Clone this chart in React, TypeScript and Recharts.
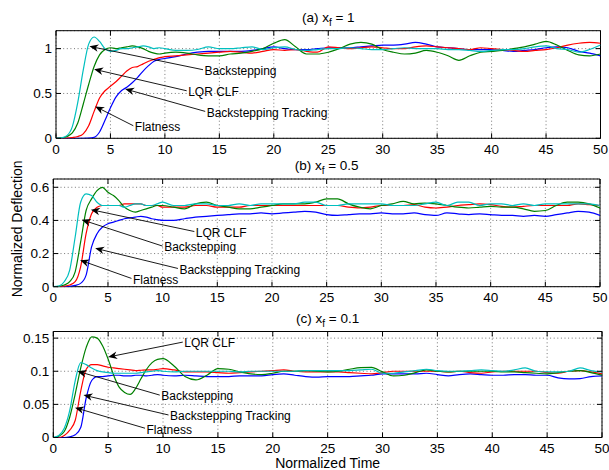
import React from 'react';
import { LineChart, Line, XAxis, YAxis, CartesianGrid, ReferenceArea, ReferenceLine } from 'recharts';

// ---------------- data ----------------
const TIME = [
  0, 0.5, 1, 1.5, 2, 2.5, 3, 3.5, 4, 4.5, 5, 5.5, 6, 6.5, 7, 7.5, 8, 8.5, 9, 9.5, 10,
  11, 12, 13, 14, 15, 16, 17, 18, 19, 20, 21, 22, 23, 24, 25, 26, 27, 28, 29, 30,
  31, 32, 33, 34, 35, 36, 37, 38, 39, 40, 41, 42, 43, 44, 45, 46, 47, 48, 49, 50,
];
const X_TICKS = [0, 5, 10, 15, 20, 25, 30, 35, 40, 45, 50];

// (a) x_f = 1
const A_CYAN = [
  0, 0.005, 0.03, 0.13, 0.4, 0.76, 1.05, 1.13, 1.08, 1.0, 0.97, 0.98, 1.0, 1.0, 1.01, 1.02, 1.03, 1.02, 1.0, 1.01, 1.0,
  0.98, 0.98, 0.99, 1.02, 1.0, 1.0, 1.01, 1.02, 0.99, 1.01, 1.02, 0.99, 0.98, 0.99, 1.0, 1.0, 1.01, 1.0, 0.99, 0.99,
  1.0, 1.01, 1.0, 1.0, 1.0, 0.99, 0.99, 0.98, 0.97, 0.98, 0.99, 0.99, 1.0, 1.02, 1.03, 1.0, 0.99, 0.96, 0.99, 1.04,
];
const A_GREEN = [
  0, 0.003, 0.02, 0.06, 0.17, 0.38, 0.6, 0.8, 0.93, 0.99, 1.01, 1.0, 1.01, 1.02, 1.03, 1.02, 1.0, 0.97, 0.95, 0.94, 0.95,
  0.96, 0.95, 0.93, 0.92, 0.92, 0.94, 0.95, 0.97, 1.0, 1.06, 1.1, 1.02, 0.94, 0.94, 0.96, 1.0, 1.05, 1.07, 1.05, 0.99,
  0.96, 0.94, 0.95, 0.98, 0.96, 0.92, 0.87, 0.92, 0.96, 0.97, 0.98, 1.0, 1.02, 1.05, 1.08, 1.04, 0.98, 0.93, 0.92, 0.94,
];
const A_RED = [
  0, 0, 0.002, 0.008, 0.02, 0.05, 0.14, 0.3, 0.45, 0.53, 0.58, 0.63, 0.69, 0.75, 0.79, 0.8, 0.83, 0.86, 0.88, 0.9, 0.91,
  0.92, 0.93, 0.94, 0.95, 0.96, 0.97, 0.96, 0.95, 0.97, 0.99, 0.98, 0.99, 0.97, 0.96, 1.02, 1.01, 1.0, 1.01, 1.02, 1.01,
  1.0, 1.0, 1.02, 1.03, 1.02, 1.01, 1.0, 0.99, 1.01, 1.0, 0.99, 0.98, 0.97, 0.98, 0.99, 1.01, 1.04, 1.06, 1.07, 1.06,
];
const A_BLUE = [
  0, 0, 0, 0, 0, 0, 0.001, 0.01, 0.07, 0.2, 0.34, 0.46, 0.53, 0.57, 0.62, 0.68, 0.75, 0.81, 0.86, 0.88, 0.89,
  0.91, 0.94, 0.96, 0.97, 0.97, 0.97, 0.97, 0.98, 1.0, 1.02, 1.0, 0.99, 0.99, 1.0, 1.01, 1.01, 1.01, 1.02, 1.03, 1.04,
  1.04, 1.05, 1.07, 1.05, 1.02, 1.01, 1.0, 0.99, 0.99, 0.99, 0.98, 0.97, 0.98, 0.99, 1.01, 1.02, 1.01, 0.97, 0.95, 0.92,
];

// (b) x_f = 0.5
const B_CYAN = [
  0, 0.003, 0.03, 0.1, 0.3, 0.51, 0.56, 0.55, 0.51, 0.49, 0.49, 0.49, 0.49, 0.48, 0.49, 0.5, 0.5, 0.49, 0.49, 0.5, 0.51,
  0.49, 0.49, 0.5, 0.5, 0.49, 0.49, 0.5, 0.49, 0.5, 0.5, 0.5, 0.5, 0.51, 0.51, 0.49, 0.49, 0.5, 0.5, 0.5, 0.5,
  0.49, 0.49, 0.49, 0.5, 0.51, 0.49, 0.51, 0.51, 0.49, 0.5, 0.5, 0.49, 0.5, 0.49, 0.5, 0.5, 0.5, 0.5, 0.5, 0.49,
];
const B_GREEN = [
  0, 0.002, 0.01, 0.03, 0.09, 0.27, 0.46, 0.53, 0.58, 0.6, 0.57, 0.55, 0.52, 0.48, 0.46, 0.45, 0.46, 0.47, 0.48, 0.49, 0.49,
  0.48, 0.47, 0.5, 0.51, 0.49, 0.48, 0.47, 0.47, 0.48, 0.49, 0.5, 0.5, 0.5, 0.51, 0.53, 0.53, 0.5, 0.48, 0.47, 0.49,
  0.5, 0.515, 0.5, 0.505, 0.5, 0.49, 0.48, 0.475, 0.48, 0.485, 0.48, 0.48, 0.47, 0.455, 0.46, 0.49, 0.51, 0.51, 0.5, 0.475,
];
const B_RED = [
  0, 0, 0.003, 0.01, 0.03, 0.12, 0.32, 0.44, 0.48, 0.49, 0.49, 0.49, 0.49, 0.5, 0.5, 0.5, 0.5, 0.49, 0.49, 0.49, 0.48,
  0.48, 0.48, 0.49, 0.49, 0.48, 0.48, 0.48, 0.49, 0.49, 0.49, 0.49, 0.49, 0.49, 0.49, 0.49, 0.49, 0.48, 0.475, 0.48, 0.49,
  0.49, 0.49, 0.495, 0.48, 0.475, 0.48, 0.49, 0.495, 0.5, 0.495, 0.485, 0.48, 0.485, 0.49, 0.49, 0.49, 0.49, 0.5, 0.495, 0.49,
];
const B_BLUE = [
  0, 0, 0, 0.002, 0.008, 0.02, 0.07, 0.24, 0.32, 0.36, 0.38, 0.39, 0.4, 0.41, 0.415, 0.42, 0.425, 0.42, 0.41, 0.405, 0.4,
  0.4, 0.41, 0.42, 0.425, 0.43, 0.435, 0.44, 0.44, 0.445, 0.44, 0.445, 0.45, 0.455, 0.45, 0.435, 0.43, 0.435, 0.44, 0.44, 0.445,
  0.44, 0.44, 0.445, 0.435, 0.43, 0.445, 0.44, 0.435, 0.44, 0.435, 0.43, 0.43, 0.425, 0.43, 0.425, 0.435, 0.445, 0.455, 0.45, 0.43,
];

// (c) x_f = 0.1
const C_CYAN = [
  0, 0.003, 0.014, 0.041, 0.086, 0.113, 0.11, 0.105, 0.101, 0.099, 0.098, 0.097, 0.097, 0.097, 0.097, 0.097, 0.098, 0.099, 0.1, 0.101, 0.1,
  0.099, 0.1, 0.1, 0.1, 0.1, 0.1, 0.099, 0.1, 0.1, 0.1, 0.1, 0.1, 0.101, 0.101, 0.101, 0.101, 0.101, 0.102, 0.103, 0.097,
  0.097, 0.099, 0.101, 0.103, 0.101, 0.1, 0.1, 0.101, 0.102, 0.101, 0.1, 0.102, 0.105, 0.1, 0.099, 0.099, 0.1, 0.105, 0.101, 0.099,
];
const C_GREEN = [
  0, 0.002, 0.009, 0.031, 0.066, 0.105, 0.136, 0.152, 0.15, 0.138, 0.118, 0.094, 0.076, 0.068, 0.065, 0.074, 0.089, 0.103, 0.113, 0.118, 0.119,
  0.108, 0.092, 0.087, 0.094, 0.104, 0.103, 0.099, 0.096, 0.095, 0.097, 0.1, 0.1, 0.101, 0.1, 0.099, 0.1, 0.103, 0.1055, 0.106, 0.099,
  0.093, 0.094, 0.098, 0.102, 0.1, 0.099, 0.1, 0.1, 0.1, 0.1, 0.099, 0.099, 0.098, 0.097, 0.096, 0.098, 0.1, 0.101, 0.098, 0.094,
];
const C_RED = [
  0, 0, 0.003, 0.011, 0.026, 0.07, 0.103, 0.11, 0.11, 0.108, 0.106, 0.105, 0.104, 0.103, 0.102, 0.101, 0.1015, 0.102, 0.102, 0.103, 0.104,
  0.102, 0.099, 0.099, 0.099, 0.098, 0.097, 0.098, 0.099, 0.1, 0.101, 0.102, 0.1, 0.099, 0.099, 0.099, 0.099, 0.098, 0.097, 0.096, 0.098,
  0.1, 0.1, 0.1, 0.1, 0.1, 0.099, 0.1, 0.098, 0.097, 0.099, 0.1, 0.1, 0.1, 0.1, 0.098, 0.097, 0.1, 0.101, 0.099, 0.096,
];
const C_BLUE = [
  0, 0, 0, 0.001, 0.004, 0.015, 0.06, 0.086, 0.092, 0.092, 0.093, 0.094, 0.094, 0.093, 0.093, 0.094, 0.094, 0.093, 0.094, 0.095, 0.094,
  0.093, 0.094, 0.093, 0.092, 0.092, 0.092, 0.093, 0.093, 0.093, 0.095, 0.096, 0.094, 0.092, 0.091, 0.092, 0.092, 0.092, 0.093, 0.094, 0.096,
  0.096, 0.096, 0.096, 0.097, 0.095, 0.093, 0.095, 0.096, 0.095, 0.094, 0.094, 0.095, 0.095, 0.094, 0.094, 0.09, 0.0885, 0.089, 0.092, 0.093,
];

const A_Y_TICKS = [0, 0.5, 1];
const B_Y_TICKS = [0, 0.2, 0.4, 0.6];
const C_Y_TICKS = [0, 0.05, 0.1, 0.15];

type Note = { label: string; tail: [number, number]; tip: [number, number] };

const A_NOTES: Note[] = [
  { label: 'Backstepping', tail: [13.5, 0.765], tip: [3.07, 1.026] },
  { label: 'LQR CLF', tail: [12.0, 0.53], tip: [3.5, 0.77] },
  { label: 'Backstepping Tracking', tail: [13.7, 0.3], tip: [6.35, 0.55] },
  { label: 'Flatness', tail: [7.1, 0.14], tip: [3.6, 0.355] },
];
const B_NOTES: Note[] = [
  { label: 'LQR CLF', tail: [12.9, 0.333], tip: [3.44, 0.465] },
  { label: 'Backstepping', tail: [10.0, 0.245], tip: [2.6, 0.404] },
  { label: 'Backstepping Tracking', tail: [11.4, 0.11], tip: [3.83, 0.232] },
  { label: 'Flatness', tail: [7.15, 0.05], tip: [2.45, 0.16] },
];
const C_NOTES: Note[] = [
  { label: 'LQR CLF', tail: [11.8, 0.144], tip: [5.0, 0.1215] },
  { label: 'Backstepping', tail: [9.7, 0.064], tip: [2.2, 0.1] },
  { label: 'Backstepping Tracking', tail: [10.5, 0.034], tip: [2.75, 0.064] },
  { label: 'Flatness', tail: [8.36, 0.014], tip: [1.98, 0.045] },
];

// ---------------- styling ----------------
const FONT = '"Liberation Sans", Arial, Helvetica, sans-serif';
const COLORS = { blue: '#0000ff', red: '#ff0000', green: '#008000', cyan: '#00bfbf' };
const TICK_LEN = 5;

const rowsFrom = (blue: number[], red: number[], green: number[], cyan: number[]) =>
  TIME.map((t, i) => ({ t, blue: blue[i], red: red[i], green: green[i], cyan: cyan[i] }));

const makeXTick = (plotH: number) => (props: any) => {
  const { x, y, payload } = props;
  return (
    <g>
      <line x1={x} x2={x} y1={y} y2={y - TICK_LEN} stroke="#000" strokeWidth={1} />
      <line x1={x} x2={x} y1={y - plotH} y2={y - plotH + TICK_LEN} stroke="#000" strokeWidth={1} />
      <text x={x} y={y + 15.5} textAnchor="middle" fontSize={13.5} fontFamily={FONT} fill="#000">
        {String(payload.value)}
      </text>
    </g>
  );
};

const makeYTick = (plotW: number) => (props: any) => {
  const { x, y, payload } = props;
  return (
    <g>
      <line x1={x} x2={x + TICK_LEN} y1={y} y2={y} stroke="#000" strokeWidth={1} />
      <line x1={x + plotW} x2={x + plotW - TICK_LEN} y1={y} y2={y} stroke="#000" strokeWidth={1} />
      <text x={x - 4} y={y} dy="0.36em" textAnchor="end" fontSize={13.5} fontFamily={FONT} fill="#000">
        {String(payload.value)}
      </text>
    </g>
  );
};

const makeArrow = (label: string) => (props: any) => {
  const { x1, y1, x2, y2 } = props;
  const dx = x1 - x2;
  const dy = y1 - y2;
  const len = Math.hypot(dx, dy) || 1;
  const ux = dx / len;
  const uy = dy / len;
  const nx = -uy;
  const ny = ux;
  const L = 9;
  const W = 3.8;
  const p1 = `${x2},${y2}`;
  const p2 = `${x2 + ux * L + nx * W},${y2 + uy * L + ny * W}`;
  const p3 = `${x2 + ux * L * 0.7},${y2 + uy * L * 0.7}`;
  const p4 = `${x2 + ux * L - nx * W},${y2 + uy * L - ny * W}`;
  return (
    <g>
      <line x1={x1} y1={y1} x2={x2 + ux * L * 0.6} y2={y2 + uy * L * 0.6} stroke="#000" strokeWidth={0.9} />
      <polygon points={`${p1} ${p2} ${p3} ${p4}`} fill="#000" />
      <text x={x1 + 1.5} y={y1 + 1} dy="0.36em" fontSize={12} fontFamily={FONT} fill="#000">
        {label}
      </text>
    </g>
  );
};

const makeTitle = (letter: string, value: string) => (props: any) => {
  const vb = props.viewBox || {};
  const cx = vb.x + vb.width / 2;
  const y = vb.y - 9;
  return (
    <text x={cx} y={y} textAnchor="middle" fontSize={13.5} fontFamily={FONT} fill="#000">
      {`(${letter}) x`}
      <tspan fontSize={10} dy={4}>f</tspan>
      <tspan dy={-4}>{` = ${value}`}</tspan>
    </text>
  );
};

type PanelProps = {
  top: number;
  height: number;
  plotLeft: number;
  plotRight: number;
  plotTop: number;
  plotBottom: number;
  yMax: number;
  yTicks: number[];
  rows: any[];
  notes: Note[];
  letter: string;
  value: string;
  yLabel?: string;
  xLabel?: string;
};

const Panel = (p: PanelProps) => {
  const width = 609;
  const plotW = p.plotRight - p.plotLeft;
  const plotH = p.plotBottom - p.plotTop;
  const xHeight = p.height - p.plotBottom;
  const yLabelFn = p.yLabel
    ? (lp: any) => {
        const vb = lp.viewBox || {};
        const cx = 17;
        const cy = vb.y + vb.height / 2 - 4;
        return (
          <text
            x={cx}
            y={cy}
            transform={`rotate(-90 ${cx} ${cy})`}
            textAnchor="middle"
            dy="0.36em"
            fontSize={14}
            fontFamily={FONT}
            fill="#000"
          >
            {p.yLabel}
          </text>
        );
      }
    : undefined;
  const xLabelFn = p.xLabel
    ? (lp: any) => {
        const vb = lp.viewBox || {};
        return (
          <text x={vb.x + vb.width / 2} y={vb.y + 30.5} textAnchor="middle" fontSize={14} fontFamily={FONT} fill="#000">
            {p.xLabel}
          </text>
        );
      }
    : undefined;
  return (
    <div style={{ position: 'absolute', left: 0, top: p.top, width, height: p.height }}>
      <LineChart
        width={width}
        height={p.height}
        data={p.rows}
        margin={{ top: p.plotTop, right: width - p.plotRight, bottom: 0, left: 0 }}
      >
        <CartesianGrid stroke="#555" strokeWidth={0.8} strokeDasharray="1 2.6" />
        <XAxis
          dataKey="t"
          type="number"
          domain={[0, 50]}
          ticks={X_TICKS}
          interval={0}
          allowDataOverflow
          axisLine={false}
          tickLine={false}
          tickSize={0}
          tickMargin={0}
          height={xHeight}
          tick={makeXTick(plotH)}
          label={xLabelFn}
        />
        <YAxis
          type="number"
          domain={[0, p.yMax]}
          ticks={p.yTicks}
          interval={0}
          allowDataOverflow
          axisLine={false}
          tickLine={false}
          tickSize={0}
          tickMargin={0}
          width={p.plotLeft}
          tick={makeYTick(plotW)}
          label={yLabelFn}
        />
        <ReferenceArea
          x1={0}
          x2={50}
          y1={0}
          y2={p.yMax}
          fill="none"
          fillOpacity={0}
          stroke="#000"
          strokeWidth={1}
          ifOverflow="visible"
          label={makeTitle(p.letter, p.value)}
        />
        <Line type="monotone" dataKey="blue" stroke={COLORS.blue} strokeWidth={1.2} dot={false} isAnimationActive={false} />
        <Line type="monotone" dataKey="red" stroke={COLORS.red} strokeWidth={1.2} dot={false} isAnimationActive={false} />
        <Line type="monotone" dataKey="green" stroke={COLORS.green} strokeWidth={1.2} dot={false} isAnimationActive={false} />
        <Line type="monotone" dataKey="cyan" stroke={COLORS.cyan} strokeWidth={1.2} dot={false} isAnimationActive={false} />
        {p.notes.map((n) => (
          <ReferenceLine
            key={n.label}
            segment={[
              { x: n.tail[0], y: n.tail[1] },
              { x: n.tip[0], y: n.tip[1] },
            ]}
            ifOverflow="visible"
            shape={makeArrow(n.label)}
          />
        ))}
      </LineChart>
    </div>
  );
};

export default function App() {
  return (
    <div style={{ position: 'absolute', left: 0, top: 0, width: 609, height: 470, background: '#fff', overflow: 'hidden' }}>
      <Panel
        top={0}
        height={160}
        plotLeft={56}
        plotRight={600.5}
        plotTop={30.7}
        plotBottom={138.3}
        yMax={1.2}
        yTicks={A_Y_TICKS}
        rows={rowsFrom(A_BLUE, A_RED, A_GREEN, A_CYAN)}
        notes={A_NOTES}
        letter="a"
        value="1"
      />
      <Panel
        top={150}
        height={160}
        plotLeft={53.3}
        plotRight={600}
        plotTop={29}
        plotBottom={136.7}
        yMax={0.65}
        yTicks={B_Y_TICKS}
        rows={rowsFrom(B_BLUE, B_RED, B_GREEN, B_CYAN)}
        notes={B_NOTES}
        letter="b"
        value="0.5"
        yLabel="Normalized Deflection"
      />
      <Panel
        top={305}
        height={165}
        plotLeft={53.3}
        plotRight={602}
        plotTop={26.5}
        plotBottom={132.5}
        yMax={0.16}
        yTicks={C_Y_TICKS}
        rows={rowsFrom(C_BLUE, C_RED, C_GREEN, C_CYAN)}
        notes={C_NOTES}
        letter="c"
        value="0.1"
        xLabel="Normalized Time"
      />
    </div>
  );
}
